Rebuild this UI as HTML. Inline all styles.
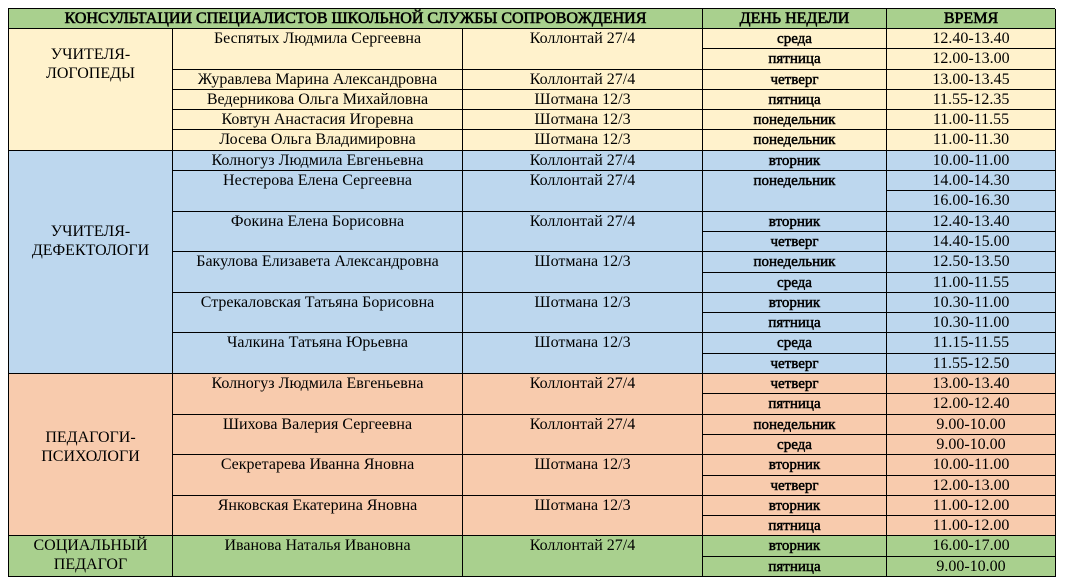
<!DOCTYPE html>
<html><head><meta charset="utf-8"><style>
html,body{margin:0;padding:0;background:#fff;width:1065px;height:585px;overflow:hidden}
.g{position:absolute;left:8px;top:8px;width:1047px;height:569px;display:grid;box-sizing:border-box;
grid-template-columns:164px 290px 240px 184px 169px;grid-template-rows:20px repeat(27,1fr);
border-left:1px solid #000;border-top:1px solid #000;font-family:"Liberation Serif","DejaVu Serif",serif;font-size:16px;color:#000}
.g>div{border-right:1px solid #000;border-bottom:1px solid #000;text-align:center;line-height:20px;overflow:hidden;white-space:nowrap}
.h{background:#a9d08e;font-weight:normal;-webkit-text-stroke:0.6px #000}
.y{background:#fff2cc}.b{background:#bdd7ee}.o{background:#f8cbad}.gr{background:#a9d08e}
.d{font-size:15px;-webkit-text-stroke:0.5px #000}
.s2{grid-row:span 2}
.g>div.c{line-height:19px}
</style></head><body><div class="g">
<div class="h" style="grid-column:span 3">КОНСУЛЬТАЦИИ СПЕЦИАЛИСТОВ ШКОЛЬНОЙ СЛУЖБЫ СОПРОВОЖДЕНИЯ</div><div class="h">ДЕНЬ НЕДЕЛИ</div><div class="h">ВРЕМЯ</div>

<div class="y c" style="grid-row:span 6;padding-top:16px">УЧИТЕЛЯ-<br>ЛОГОПЕДЫ</div>
<div class="y s2">Беспятых Людмила Сергеевна</div><div class="y s2">Коллонтай 27/4</div><div class="y d">среда</div><div class="y">12.40-13.40</div>
<div class="y d">пятница</div><div class="y">12.00-13.00</div>
<div class="y">Журавлева Марина Александровна</div><div class="y">Коллонтай 27/4</div><div class="y d">четверг</div><div class="y">13.00-13.45</div>
<div class="y">Ведерникова Ольга Михайловна</div><div class="y">Шотмана 12/3</div><div class="y d">пятница</div><div class="y">11.55-12.35</div>
<div class="y">Ковтун Анастасия Игоревна</div><div class="y">Шотмана 12/3</div><div class="y d">понедельник</div><div class="y">11.00-11.55</div>
<div class="y">Лосева Ольга Владимировна</div><div class="y">Шотмана 12/3</div><div class="y d">понедельник</div><div class="y">11.00-11.30</div>

<div class="b c" style="grid-row:span 11;padding-top:71px">УЧИТЕЛЯ-<br>ДЕФЕКТОЛОГИ</div>
<div class="b">Колногуз Людмила Евгеньевна</div><div class="b">Коллонтай 27/4</div><div class="b d">вторник</div><div class="b">10.00-11.00</div>
<div class="b s2">Нестерова Елена Сергеевна</div><div class="b s2">Коллонтай 27/4</div><div class="b d s2">понедельник</div><div class="b">14.00-14.30</div>
<div class="b">16.00-16.30</div>
<div class="b s2">Фокина Елена Борисовна</div><div class="b s2">Коллонтай 27/4</div><div class="b d">вторник</div><div class="b">12.40-13.40</div>
<div class="b d">четверг</div><div class="b">14.40-15.00</div>
<div class="b s2">Бакулова Елизавета Александровна</div><div class="b s2">Шотмана 12/3</div><div class="b d">понедельник</div><div class="b">12.50-13.50</div>
<div class="b d">среда</div><div class="b">11.00-11.55</div>
<div class="b s2">Стрекаловская Татьяна Борисовна</div><div class="b s2">Шотмана 12/3</div><div class="b d">вторник</div><div class="b">10.30-11.00</div>
<div class="b d">пятница</div><div class="b">10.30-11.00</div>
<div class="b s2">Чалкина Татьяна Юрьевна</div><div class="b s2">Шотмана 12/3</div><div class="b d">среда</div><div class="b">11.15-11.55</div>
<div class="b d">четверг</div><div class="b">11.55-12.50</div>

<div class="o c" style="grid-row:span 8;padding-top:54px">ПЕДАГОГИ-<br>ПСИХОЛОГИ</div>
<div class="o s2">Колногуз Людмила Евгеньевна</div><div class="o s2">Коллонтай 27/4</div><div class="o d">четверг</div><div class="o">13.00-13.40</div>
<div class="o d">пятница</div><div class="o">12.00-12.40</div>
<div class="o s2">Шихова Валерия Сергеевна</div><div class="o s2">Коллонтай 27/4</div><div class="o d">понедельник</div><div class="o">9.00-10.00</div>
<div class="o d">среда</div><div class="o">9.00-10.00</div>
<div class="o s2">Секретарева Иванна Яновна</div><div class="o s2">Шотмана 12/3</div><div class="o d">вторник</div><div class="o">10.00-11.00</div>
<div class="o d">четверг</div><div class="o">12.00-13.00</div>
<div class="o s2">Янковская Екатерина Яновна</div><div class="o s2">Шотмана 12/3</div><div class="o d">вторник</div><div class="o">11.00-12.00</div>
<div class="o d">пятница</div><div class="o">11.00-12.00</div>

<div class="gr s2 c">СОЦИАЛЬНЫЙ<br>ПЕДАГОГ</div>
<div class="gr s2">Иванова Наталья Ивановна</div><div class="gr s2">Коллонтай 27/4</div><div class="gr d">вторник</div><div class="gr">16.00-17.00</div>
<div class="gr d">пятница</div><div class="gr">9.00-10.00</div>
</div></body></html>
